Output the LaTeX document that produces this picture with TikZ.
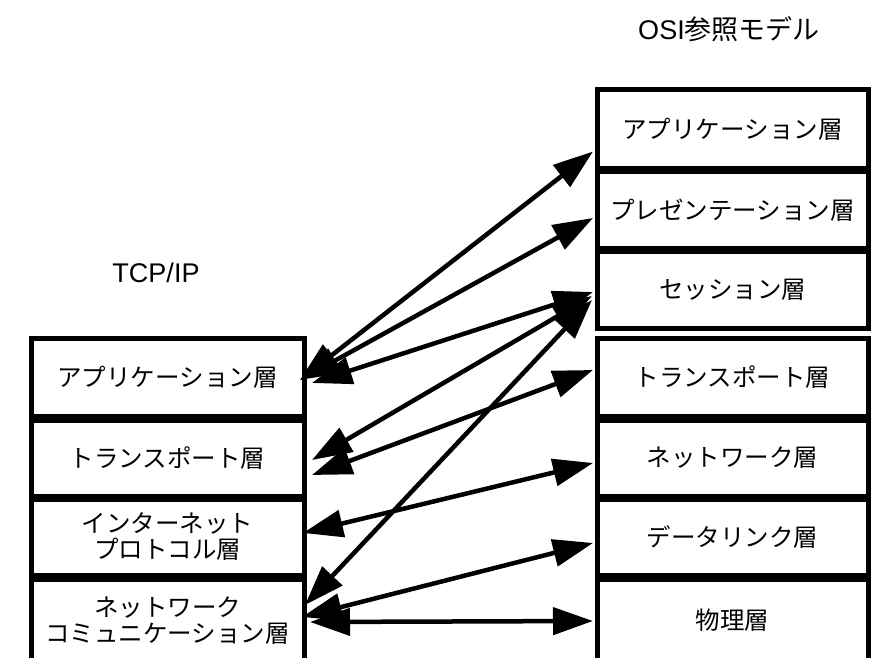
\documentclass[tikz,border=0pt]{standalone}
\usepackage{fontspec}
\setmainfont{Liberation Sans}
\newfontfamily\jp{Noto Sans CJK JP}
\usetikzlibrary{arrows.meta}
\tikzset{
  layer/.style={draw=black, line width=5pt, rectangle, inner sep=0pt, outer sep=0pt,
    align=center, font=\jp\fontsize{24.5}{26}\selectfont},
  link/.style={line width=4.5pt, {Triangle[length=40pt,width=27pt]}-{Triangle[length=40pt,width=27pt]}},
  title/.style={font=\fontsize{27}{30}\selectfont, inner sep=0pt}
}
\begin{document}
\begin{tikzpicture}[x=1pt,y=-1pt]
\useasboundingbox (0,0) rectangle (871,658);
\clip (0,0) rectangle (871,658);
% titles
\node[title] (osiT) at (729,29) {OSI{\jp 参照モデル}};
\node[title] (tcpT) at (156,273) {TCP/IP};
% TCP/IP layers
\node[layer, minimum width=273pt, minimum height=78pt] (tApp) at (167.5,377) {アプリケーション層};
\node[layer, minimum width=273pt, minimum height=76pt] (tTr) at (167.5,458) {トランスポート層};
\node[layer, minimum width=273pt, minimum height=76pt] (tInt) at (167.5,537) {インターネット\\プロトコル層};
\node[layer, minimum width=273pt, minimum height=83pt] (tNet) at (167.5,620.5) {ネットワーク\\コミュニケーション層};
% OSI layers
\node[layer, minimum width=271pt, minimum height=79pt] (oApp) at (732.5,129.5) {アプリケーション層};
\node[layer, minimum width=271pt, minimum height=76pt] (oPres) at (732.5,210) {プレゼンテーション層};
\node[layer, minimum width=271pt, minimum height=77pt] (oSes) at (732.5,289.5) {セッション層};
\node[layer, minimum width=271pt, minimum height=78pt] (oTr) at (732.5,377) {トランスポート層};
\node[layer, minimum width=271pt, minimum height=76pt] (oNet) at (732.5,458) {ネットワーク層};
\node[layer, minimum width=271pt, minimum height=76pt] (oDl) at (732.5,537) {データリンク層};
\node[layer, minimum width=271pt, minimum height=83pt] (oPh) at (732.5,620.5) {物理層};
% connectors
\draw[link] ([shift={(-4,3)}]tApp.east) -- ([shift={(-4,22)}]oApp.west);
\draw[link] ([shift={(-4,3)}]tApp.east) -- ([shift={(-4,8)}]oPres.west);
\draw[link] ([shift={(8,6)}]tApp.east) -- ([shift={(-4,2.5)}]oSes.west);
\draw[link] ([shift={(8,2)}]tTr.east) -- ([shift={(-5,6.5)}]oSes.west);
\draw[link] ([shift={(8,17)}]tTr.east) -- ([shift={(-4,-7)}]oTr.west);
\draw[link] ([shift={(-1,-4)}]tInt.east) -- ([shift={(-4,5)}]oNet.west);
\draw[link] ([shift={(1,-15.5)}]tNet.east) -- ([shift={(-5,10.5)}]oSes.west);
\draw[link] ([shift={(-2,-3.5)}]tNet.east) -- ([shift={(-4,6)}]oDl.west);
\draw[link] ([shift={(6,1.5)}]tNet.east) -- ([shift={(-4,0.5)}]oPh.west);
\end{tikzpicture}
\end{document}
